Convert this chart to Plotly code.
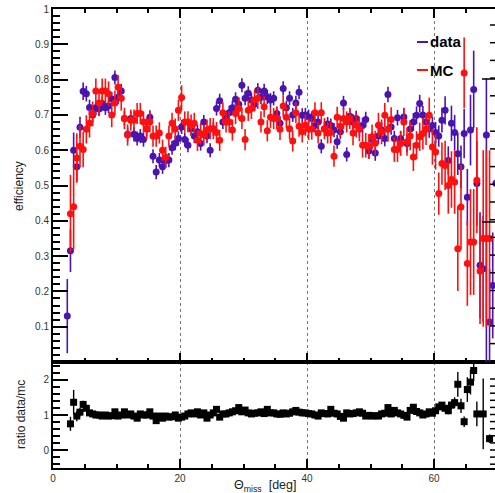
import plotly.graph_objects as go

# ---------------- data (bin centres in deg) ----------------
theta = [2.25 + 0.5 * i for i in range(136)]

eff_data = [0.13, 0.315, 0.60, 0.553, 0.665, 0.767, 0.76, 0.721, 0.70, 0.72,
            0.717, 0.732, 0.72, 0.725, 0.745, 0.806, 0.75, 0.768, 0.69, 0.645,
            0.69, 0.645, 0.633, 0.64, 0.63, 0.66, 0.693, 0.583, 0.538, 0.572,
            0.553, 0.571, 0.572, 0.607, 0.62, 0.633, 0.666, 0.63, 0.614, 0.661,
            0.64, 0.652, 0.619, 0.68, 0.64, 0.60, 0.66, 0.718, 0.74, 0.68,
            0.69, 0.706, 0.72, 0.744, 0.73, 0.784, 0.747, 0.761, 0.742, 0.73,
            0.77, 0.75, 0.768, 0.751, 0.742, 0.747, 0.704, 0.676, 0.775, 0.72,
            0.747, 0.70, 0.734, 0.764, 0.699, 0.70, 0.695, 0.69, 0.67, 0.68,
            0.611, 0.66, 0.674, 0.67, 0.657, 0.624, 0.652, 0.734, 0.588, 0.696,
            0.68, 0.69, 0.66, 0.67, 0.687, 0.598, 0.63, 0.592, 0.64, 0.657,
            0.633, 0.758, 0.666, 0.633, 0.692, 0.633, 0.694, 0.619, 0.66, 0.68,
            0.699, 0.732, 0.70, 0.68, 0.66, 0.67, 0.65, 0.64, 0.685, 0.713,
            0.571, 0.676, 0.65, 0.59, 0.553, 0.647, 0.467, 0.657, 0.772, 0.506,
            0.274, 0.264, 0.643, 0.113, 0.217, 0.506]

err_data_up = [0.105, 0.06, 0.05, 0.04, 0.03, 0.025, 0.022, 0.022, 0.02, 0.02,
               0.02, 0.02, 0.02, 0.02, 0.02, 0.02, 0.02, 0.02, 0.02, 0.02,
               0.02, 0.02, 0.02, 0.02, 0.02, 0.02, 0.02, 0.02, 0.02, 0.02,
               0.02, 0.02, 0.02, 0.02, 0.02, 0.02, 0.02, 0.02, 0.02, 0.02,
               0.02, 0.02, 0.02, 0.02, 0.02, 0.02, 0.02, 0.02, 0.02, 0.02,
               0.02, 0.02, 0.02, 0.02, 0.02, 0.02, 0.02, 0.02, 0.02, 0.02,
               0.02, 0.02, 0.02, 0.02, 0.02, 0.02, 0.02, 0.02, 0.02, 0.02,
               0.02, 0.02, 0.02, 0.02, 0.02, 0.02, 0.02, 0.02, 0.02, 0.02,
               0.02, 0.02, 0.02, 0.02, 0.02, 0.02, 0.02, 0.02, 0.02, 0.02,
               0.022, 0.022, 0.022, 0.022, 0.022, 0.022, 0.022, 0.022, 0.022, 0.022,
               0.022, 0.022, 0.022, 0.022, 0.022, 0.022, 0.025, 0.025, 0.025, 0.025,
               0.025, 0.025, 0.025, 0.025, 0.025, 0.025, 0.03, 0.03, 0.035, 0.04,
               0.04, 0.05, 0.05, 0.06, 0.06, 0.07, 0.08, 0.10, 0.11, 0.12,
               0.15, 0.15, 0.16, 0.15, 0.15, 0.15]
err_data_dn = list(err_data_up)
err_data_dn[132] = 0.643

eff_mc = [None, 0.42, 0.44, 0.578, 0.611, 0.602, 0.659, 0.676, 0.703, 0.768,
          0.734, 0.768, 0.768, 0.76, 0.70, 0.734, 0.778, 0.747, 0.69, 0.643,
          0.685, 0.685, 0.704, 0.704, 0.68, 0.661, 0.68, 0.64, 0.64, 0.649,
          0.60, 0.58, 0.64, 0.676, 0.66, 0.713, 0.749, 0.68, 0.68, 0.671,
          0.676, 0.628, 0.647, 0.643, 0.657, 0.661, 0.661, 0.65, 0.628, 0.706,
          0.68, 0.68, 0.657, 0.704, 0.718, 0.69, 0.63, 0.713, 0.718, 0.742,
          0.747, 0.68, 0.723, 0.655, 0.693, 0.69, 0.69, 0.659, 0.725, 0.693,
          0.661, 0.626, 0.706, 0.668, 0.652, 0.671, 0.659, 0.66, 0.706, 0.649,
          0.706, 0.661, 0.649, 0.65, 0.583, 0.693, 0.668, 0.69, 0.68, 0.69,
          0.649, 0.671, 0.66, 0.614, 0.614, 0.611, 0.638, 0.62, 0.671, 0.652,
          0.699, 0.659, 0.687, 0.602, 0.602, 0.619, 0.68, 0.624, 0.64, 0.581,
          0.614, 0.638, 0.647, 0.66, 0.699, 0.609, 0.595, 0.477, 0.562, 0.557,
          0.50, 0.517, 0.51, 0.321, 0.439, 0.819, 0.279, 0.34, 0.34, 0.515,
          0.258, 0.35, 0.35, 0.35, None, None]

err_mc = [0.0, 0.11, 0.12, 0.07, 0.06, 0.05, 0.04, 0.04, 0.035, 0.035,
          0.035, 0.035, 0.035, 0.035, 0.035, 0.035, 0.035, 0.035, 0.03, 0.03,
          0.03, 0.03, 0.03, 0.03, 0.03, 0.03, 0.03, 0.03, 0.03, 0.03,
          0.03, 0.03, 0.03, 0.03, 0.03, 0.03, 0.035, 0.03, 0.03, 0.03,
          0.03, 0.03, 0.03, 0.03, 0.03, 0.03, 0.03, 0.03, 0.03, 0.03,
          0.03, 0.03, 0.03, 0.03, 0.03, 0.03, 0.03, 0.03, 0.03, 0.03,
          0.03, 0.03, 0.03, 0.03, 0.03, 0.03, 0.03, 0.03, 0.03, 0.03,
          0.03, 0.03, 0.03, 0.03, 0.03, 0.03, 0.03, 0.03, 0.03, 0.03,
          0.03, 0.03, 0.03, 0.03, 0.03, 0.03, 0.03, 0.03, 0.03, 0.03,
          0.035, 0.035, 0.035, 0.035, 0.035, 0.035, 0.035, 0.035, 0.035, 0.035,
          0.035, 0.035, 0.035, 0.035, 0.035, 0.035, 0.04, 0.04, 0.04, 0.04,
          0.04, 0.04, 0.045, 0.045, 0.05, 0.05, 0.05, 0.06, 0.06, 0.07,
          0.08, 0.08, 0.09, 0.12, 0.12, 0.10, 0.12, 0.15, 0.15, 0.15,
          0.15, 0.25, 0.25, 0.25, 0.0, 0.0]

ratio = [None, 0.75, 1.36, 0.97, 1.08, 1.30, 1.19, 1.06, 1.03, 1.00,
         1.00, 0.97, 1.00, 0.97, 0.98, 1.09, 0.97, 1.00, 1.09, 1.00,
         1.03, 0.97, 0.91, 1.03, 1.00, 1.00, 1.09, 0.97, 0.84, 0.97,
         0.91, 0.97, 0.94, 0.95, 1.00, 0.91, 0.94, 0.97, 1.03, 1.06,
         1.03, 1.09, 1.00, 1.06, 0.91, 1.00, 1.06, 1.16, 0.94, 1.03,
         1.03, 1.06, 1.09, 1.12, 1.21, 1.09, 1.14, 1.06, 1.03, 1.05,
         1.06, 1.09, 1.04, 1.16, 1.06, 1.06, 1.03, 1.02, 1.06, 1.03,
         1.05, 1.09, 1.13, 1.08, 1.06, 1.06, 1.04, 1.03, 1.00, 0.97,
         1.06, 1.04, 1.03, 1.16, 1.05, 1.03, 0.96, 0.91, 1.06, 1.03,
         1.04, 1.06, 1.09, 1.05, 0.97, 0.99, 0.97, 0.98, 0.97, 1.03,
         1.05, 1.21, 1.03, 1.13, 1.06, 1.03, 0.99, 0.94, 1.13, 1.22,
         1.10, 1.06, 1.00, 1.03, 1.09, 1.05, 1.12, 1.23, 1.28, 1.19,
         1.12, 1.28, 1.35, 1.87, 1.26, 0.81, 1.72, 1.93, 2.26, 1.03,
         None, 1.03, None, 0.33, None, None]

err_ratio = [0.0, 0.2, 0.35, 0.15, 0.12, 0.10, 0.07, 0.06, 0.05, 0.05,
             0.05, 0.05, 0.05, 0.05, 0.05, 0.05, 0.05, 0.05, 0.05, 0.05,
             0.05, 0.05, 0.05, 0.05, 0.05, 0.05, 0.05, 0.05, 0.05, 0.05,
             0.05, 0.05, 0.05, 0.05, 0.05, 0.05, 0.05, 0.05, 0.05, 0.05,
             0.05, 0.05, 0.05, 0.05, 0.05, 0.05, 0.05, 0.05, 0.05, 0.05,
             0.05, 0.05, 0.05, 0.05, 0.05, 0.05, 0.05, 0.05, 0.05, 0.05,
             0.05, 0.05, 0.05, 0.05, 0.05, 0.05, 0.05, 0.05, 0.05, 0.05,
             0.05, 0.05, 0.05, 0.05, 0.05, 0.05, 0.05, 0.05, 0.05, 0.05,
             0.05, 0.05, 0.05, 0.05, 0.05, 0.05, 0.05, 0.05, 0.05, 0.05,
             0.05, 0.05, 0.05, 0.05, 0.05, 0.05, 0.05, 0.05, 0.05, 0.05,
             0.05, 0.05, 0.05, 0.05, 0.05, 0.05, 0.06, 0.06, 0.06, 0.06,
             0.06, 0.06, 0.06, 0.06, 0.07, 0.07, 0.08, 0.08, 0.08, 0.09,
             0.10, 0.12, 0.15, 0.35, 0.20, 0.15, 0.35, 0.35, 0.30, 0.35,
             0.0, 1.0, 0.0, 0.12, 0.0, 0.0]

x_ticks = [0, 20, 40, 60]
eff_ticks = [0.1, 0.2, 0.3, 0.4, 0.5, 0.6, 0.7, 0.8, 0.9, 1.0]
eff_ticktext = ["0.1", "0.2", "0.3", "0.4", "0.5", "0.6", "0.7", "0.8", "0.9", "1"]
ratio_ticks = [0, 1, 2]

# ---------------- style ----------------
PURPLE = "#4a14b0"
RED = "#ff1010"
FONT = "Liberation Sans, Arial, sans-serif"
W, H = 495, 493
ML, MR, MT, MB = 53, 0, 9, 25
PW, PH = W - ML - MR, H - MT - MB
split = (468 - 362) / PH
x_max = PW / 6.35


def px(xp):
    return (xp - ML) / PW


def py(yp):
    return (H - MB - yp) / PH


fig = go.Figure()

fig.add_trace(go.Scatter(
    x=theta, y=eff_data, mode="markers", xaxis="x2", yaxis="y2",
    marker=dict(color=PURPLE, size=7, symbol="circle"),
    error_y=dict(type="data", array=err_data_up, arrayminus=err_data_dn,
                 color=PURPLE, thickness=1.6, width=0),
    showlegend=False, cliponaxis=True))

fig.add_trace(go.Scatter(
    x=theta, y=eff_mc, mode="markers", xaxis="x2", yaxis="y2",
    marker=dict(color=RED, size=7, symbol="circle"),
    error_y=dict(type="data", array=err_mc, color=RED, thickness=1.6, width=0),
    showlegend=False, cliponaxis=True))

fig.add_trace(go.Scatter(
    x=theta, y=ratio, mode="markers", xaxis="x", yaxis="y",
    marker=dict(color="black", size=7, symbol="square"),
    error_y=dict(type="data", array=err_ratio, color="black", thickness=1.4, width=0),
    showlegend=False, cliponaxis=True))

axis_common = dict(showline=True, linecolor="black", linewidth=2, ticks="inside",
                   tickcolor="black", tickwidth=1.5, zeroline=False,
                   tickfont=dict(family=FONT, size=10, color="#333"))

fig.update_layout(
    width=W, height=H,
    margin=dict(l=ML, r=MR, t=MT, b=MB, pad=0),
    paper_bgcolor="white", plot_bgcolor="white",
    font=dict(family=FONT, color="#222"),
    xaxis=dict(axis_common, domain=[0, 1], range=[0, x_max], anchor="y",
               tickmode="array", tickvals=x_ticks, ticklen=9, mirror=True,
               minor=dict(ticks="inside", ticklen=4, dtick=5, tick0=0,
                          tickcolor="black", tickwidth=1.5, showgrid=False),
               showgrid=True, gridcolor="#777", griddash="dot", gridwidth=1),
    yaxis=dict(axis_common, domain=[0, split], range=[-0.5, 2.5], anchor="x",
               tickmode="array", tickvals=ratio_ticks, ticklen=15,
               minor=dict(ticks="inside", ticklen=7, dtick=0.2, tick0=0,
                          tickcolor="black", tickwidth=1.5, showgrid=False),
               showgrid=False),
    xaxis2=dict(axis_common, domain=[0, 1], range=[0, x_max], anchor="y2",
                tickmode="array", tickvals=x_ticks, ticklen=9, mirror="ticks",
                showticklabels=False,
                minor=dict(ticks="inside", ticklen=4, dtick=5, tick0=0,
                           tickcolor="black", tickwidth=1.5, showgrid=False),
                showgrid=True, gridcolor="#777", griddash="dot", gridwidth=1),
    yaxis2=dict(axis_common, domain=[split, 1], range=[0, 1], anchor="x2",
                tickmode="array", tickvals=eff_ticks, ticktext=eff_ticktext,
                ticklen=15,
                minor=dict(ticks="inside", ticklen=7, dtick=0.02, tick0=0,
                           tickcolor="black", tickwidth=1.5, showgrid=False),
                showgrid=False),
)

annotations = [
    dict(text="efficiency", x=px(19), y=py(186), xref="paper", yref="paper",
         xanchor="center", yanchor="middle",
         textangle=-90, showarrow=False, font=dict(family=FONT, size=12, color="#222")),
    dict(text="ratio data/mc", x=px(21), y=py(415), xref="paper", yref="paper",
         xanchor="center", yanchor="middle",
         textangle=-90, showarrow=False, font=dict(family=FONT, size=12, color="#222")),
    dict(text="\u0398<sub>miss</sub>  [deg]", x=px(265), y=py(486), xref="paper",
         yref="paper", xanchor="center", yanchor="middle",
         showarrow=False, font=dict(family=FONT, size=12.5, color="#222")),
    dict(text="<b>data</b>", x=px(428), y=py(42), xref="paper", yref="paper",
         xanchor="left", yanchor="middle",
         showarrow=False, font=dict(family=FONT, size=15, color="black")),
    dict(text="<b>MC</b>", x=px(428), y=py(70), xref="paper", yref="paper",
         xanchor="left", yanchor="middle",
         showarrow=False, font=dict(family=FONT, size=15, color="black")),
]
fig.update_layout(annotations=annotations)

shapes = [
    dict(type="line", xref="paper", yref="paper", x0=px(417), x1=px(428),
         y0=py(42), y1=py(42), line=dict(color=PURPLE, width=2)),
    dict(type="line", xref="paper", yref="paper", x0=px(417), x1=px(428),
         y0=py(70), y1=py(70), line=dict(color=RED, width=2)),
]
# tick marks of the neighbouring pad visible at the right edge
yy = 25.0
while yy < 362:
    shapes.append(dict(type="line", xref="paper", yref="paper", x0=px(490), x1=px(495),
                       y0=py(yy), y1=py(yy), line=dict(color="black", width=1.5)))
    yy += 17.7
for yl in (79, 222):
    shapes.append(dict(type="line", xref="paper", yref="paper", x0=px(482), x1=px(495),
                       y0=py(yl), y1=py(yl), line=dict(color="black", width=1.5)))
yy = 379.0
while yy < 468:
    shapes.append(dict(type="line", xref="paper", yref="paper", x0=px(490), x1=px(495),
                       y0=py(yy), y1=py(yy), line=dict(color="black", width=1.5)))
    yy += 7.1
fig.update_layout(shapes=shapes)

fig.write_html("out.html")
